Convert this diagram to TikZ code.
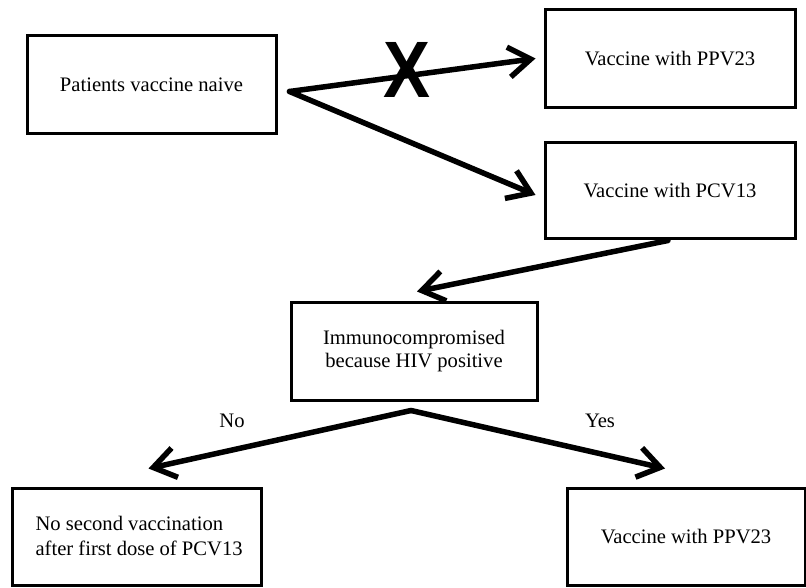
\documentclass[tikz,border=0pt]{standalone}
\usepackage{fontspec}
\setmainfont{Liberation Serif}
\newfontfamily\xfont{Liberation Sans}
\usetikzlibrary{arrows.meta,calc}
\begin{document}
\begin{tikzpicture}[x=1pt,y=1pt,
  box/.style={draw=black,line width=3pt,minimum height=98pt,inner sep=0pt,
    font=\fontsize{20.6}{23}\selectfont,align=center},
  arr/.style={line width=5.5pt,line cap=round,-{Straight Barb[length=22pt,width=30pt]}},
  lbl/.style={font=\fontsize{20.6}{23}\selectfont}]
\useasboundingbox (0,0) rectangle (806,587);
\fill[white] (0,0) rectangle (806,587);
\node[box,minimum width=249pt] (naive) at (151.5,502.5) {Patients vaccine naive};
\node[box,minimum width=250pt] (ppv) at (670,528.5) {Vaccine with PPV23};
\node[box,minimum width=250pt,minimum height=96pt] (pcv) at (670,396) {Vaccine with PCV13};
\node[box,minimum width=246pt,minimum height=97pt] (hiv) at (414,235.5) {Immunocompromised\\because HIV positive};
\node[box,minimum width=249pt,minimum height=97pt] (nosec) at (136.5,50.5) {};
\node[lbl,anchor=west,align=left] (nosectext) at (32,51) {No second vaccination\\[2pt]after first dose of PCV13};
\node[box,minimum width=238pt,minimum height=97pt] (ppv2) at (686,50.5) {Vaccine with PPV23};
\coordinate (fork) at ($(naive.east)+(12,-7)$);
\coordinate (split) at ($(hiv.south)+(-3,-9)$);
\draw[arr] (fork) -- ($(ppv.west)+(-8,0)$);
\draw[arr] (fork) -- ($(pcv.west)+(-8,-4)$);
\draw[arr] ($(pcv.south)+(-2,0)$) -- ($(hiv.north)+(3,10)$);
\draw[arr] (split) -- ($(nosec.north)+(12,18)$);
\draw[arr] (split) -- ($(ppv2.north)+(-21,18)$);
\node[font=\xfont\bfseries\fontsize{80}{80}\selectfont,xscale=0.88,inner sep=0pt] (cross) at (407,517) {X};
\node[lbl] (no) at (232,166) {No};
\node[lbl] (yes) at (600,166) {Yes};
\end{tikzpicture}
\end{document}
